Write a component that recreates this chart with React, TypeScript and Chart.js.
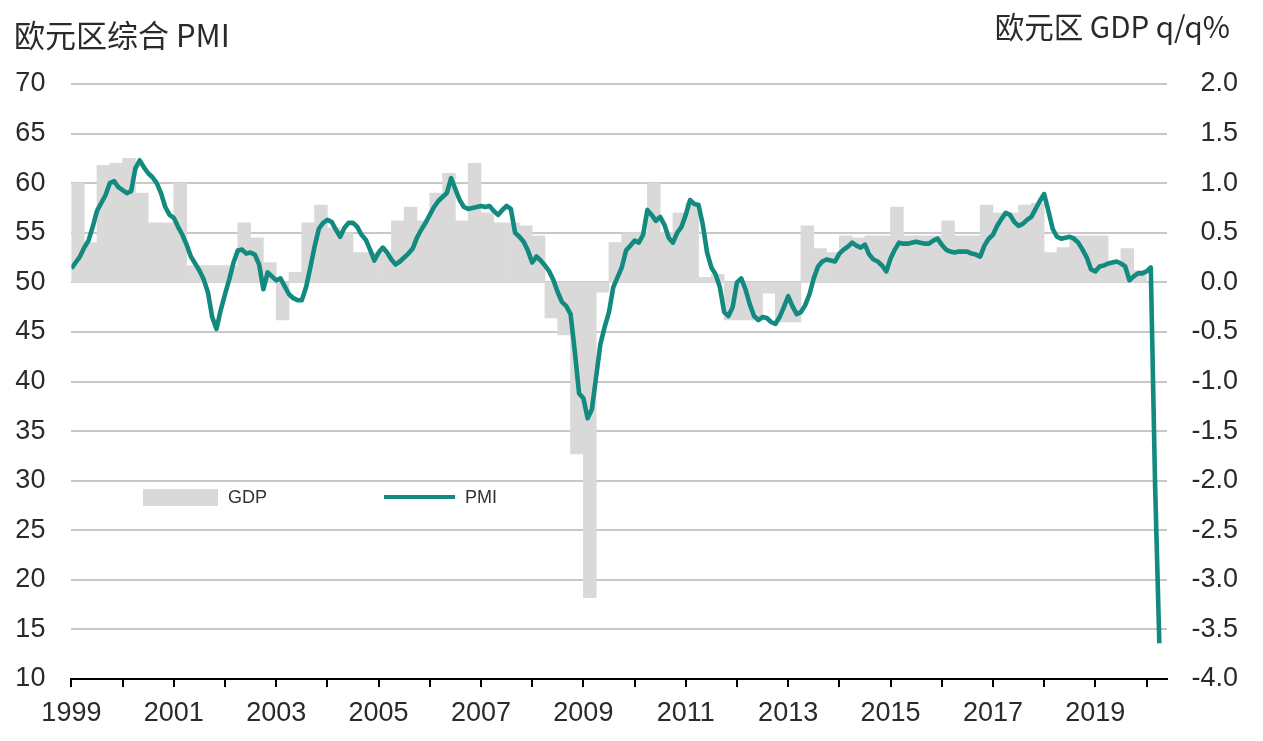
import React, { useEffect, useRef } from "react";
import { Chart, registerables } from "chart.js";

Chart.register(...registerables);

// ---------- data ----------
const startYear = 1999;

// Euro area composite PMI, monthly from Jan 1999 to Apr 2020
const pmi1999 = [51.4, 52.0, 52.6, 53.5, 54.2, 55.6, 57.2, 58.0, 58.8, 60.0, 60.2, 59.6];
const pmi2000 = [59.3, 59.0, 59.2, 61.5, 62.3, 61.6, 61.0, 60.6, 60.0, 59.0, 57.6, 56.8];
const pmi2001 = [56.5, 55.6, 54.8, 53.8, 52.6, 51.9, 51.2, 50.3, 49.0, 46.5, 45.3, 47.2];
const pmi2002 = [48.8, 50.3, 52.0, 53.2, 53.3, 52.9, 53.0, 52.8, 51.8, 49.3, 51.0, 50.6];
const pmi2003 = [50.2, 50.4, 49.6, 48.8, 48.4, 48.2, 48.2, 49.5, 51.5, 53.6, 55.4, 56.0];
const pmi2004 = [56.3, 56.1, 55.3, 54.6, 55.5, 56.0, 56.0, 55.6, 54.8, 54.3, 53.3, 52.2];
const pmi2005 = [53.0, 53.5, 53.0, 52.3, 51.8, 52.1, 52.5, 52.9, 53.4, 54.5, 55.3, 56.0];
const pmi2006 = [56.8, 57.6, 58.2, 58.6, 59.0, 60.5, 59.4, 58.3, 57.6, 57.4, 57.5, 57.6];
const pmi2007 = [57.7, 57.6, 57.7, 57.2, 56.8, 57.3, 57.7, 57.4, 55.0, 54.6, 54.1, 53.2];
const pmi2008 = [52.0, 52.6, 52.2, 51.7, 51.1, 50.2, 49.0, 48.0, 47.6, 46.8, 43.0, 38.8];
const pmi2009 = [38.3, 36.3, 37.2, 40.5, 43.8, 45.5, 47.0, 49.5, 50.5, 51.5, 53.2, 53.7];
const pmi2010 = [54.2, 54.0, 54.8, 57.3, 56.8, 56.2, 56.6, 55.8, 54.5, 54.0, 55.0, 55.6];
const pmi2011 = [56.8, 58.3, 57.9, 57.8, 55.8, 53.0, 51.5, 50.8, 49.5, 47.0, 46.6, 47.5];
const pmi2012 = [50.0, 50.4, 49.3, 47.8, 46.6, 46.2, 46.5, 46.4, 46.0, 45.8, 46.5, 47.5];
const pmi2013 = [48.6, 47.6, 46.8, 47.0, 47.7, 48.8, 50.4, 51.6, 52.1, 52.3, 52.2, 52.1];
const pmi2014 = [52.9, 53.3, 53.6, 54.0, 53.7, 53.5, 53.8, 52.8, 52.3, 52.1, 51.7, 51.1];
const pmi2015 = [52.4, 53.3, 54.0, 53.9, 53.9, 54.0, 54.1, 54.0, 53.9, 53.9, 54.2, 54.4];
const pmi2016 = [53.8, 53.3, 53.1, 53.0, 53.1, 53.1, 53.1, 52.9, 52.8, 52.6, 53.7, 54.4];
const pmi2017 = [54.8, 55.7, 56.4, 57.0, 56.8, 56.1, 55.7, 55.9, 56.3, 56.6, 57.4, 58.2];
const pmi2018 = [58.9, 57.2, 55.4, 54.6, 54.4, 54.5, 54.6, 54.4, 54.0, 53.3, 52.5, 51.3];
const pmi2019 = [51.1, 51.6, 51.7, 51.9, 52.0, 52.1, 51.9, 51.6, 50.2, 50.6, 50.9, 50.9];
const pmi2020 = [51.1, 51.5, 29.7, 13.6];

const pmiValues = [
  ...pmi1999, ...pmi2000, ...pmi2001, ...pmi2002, ...pmi2003, ...pmi2004,
  ...pmi2005, ...pmi2006, ...pmi2007, ...pmi2008, ...pmi2009, ...pmi2010,
  ...pmi2011, ...pmi2012, ...pmi2013, ...pmi2014, ...pmi2015, ...pmi2016,
  ...pmi2017, ...pmi2018, ...pmi2019, ...pmi2020,
];

// Euro area GDP q/q %, quarterly 1999Q1 .. 2019Q4
const gdpValues = [
  1.0, 0.4, 1.18, 1.2, // 1999
  1.25, 0.9, 0.6, 0.6, // 2000
  1.0, 0.17, 0.17, 0.17, // 2001
  0.17, 0.6, 0.45, 0.2, // 2002
  -0.38, 0.1, 0.6, 0.78, // 2003
  0.55, 0.5, 0.3, 0.3, // 2004
  0.3, 0.62, 0.76, 0.62, // 2005
  0.9, 1.1, 0.62, 1.2, // 2006
  0.7, 0.6, 0.6, 0.57, // 2007
  0.47, -0.36, -0.53, -1.73, // 2008
  -3.18, -0.1, 0.4, 0.5, // 2009
  0.5, 1.0, 0.5, 0.7, // 2010
  0.8, 0.05, 0.08, -0.38, // 2011
  -0.38, -0.38, -0.11, -0.4, // 2012
  -0.4, 0.57, 0.34, 0.3, // 2013
  0.47, 0.45, 0.47, 0.47, // 2014
  0.76, 0.47, 0.47, 0.47, // 2015
  0.62, 0.47, 0.47, 0.78, // 2016
  0.7, 0.7, 0.78, 0.8, // 2017
  0.3, 0.35, 0.47, 0.47, // 2018
  0.47, 0.19, 0.34, 0.12, // 2019
];

const yearTicks = [
  1999, 2000, 2001, 2002, 2003, 2004, 2005, 2006, 2007, 2008, 2009,
  2010, 2011, 2012, 2013, 2014, 2015, 2016, 2017, 2018, 2019, 2020,
];
const yearLabels = ["1999", "2001", "2003", "2005", "2007", "2009", "2011", "2013", "2015", "2017", "2019"];

const leftTitle = "欧元区综合 PMI";
const rightTitle = "欧元区 GDP q/q%";
const legendGdp = "GDP";
const legendPmi = "PMI";

// ---------- styles ----------
const TEAL = "#138a7f";
const BAR_GRAY = "#d9d9d9";
const GRID = "#c8c8c8";
const TEXT = "#2a2a2a";
const TICK_FONT = "'Liberation Sans Narrow', 'Arial Narrow', 'Liberation Sans', Arial, sans-serif";

export default function App() {
  const canvasRef = useRef<HTMLCanvasElement | null>(null);

  useEffect(() => {
    const canvas = canvasRef.current;
    if (!canvas) return;

    const pmiPoints = pmiValues.map((v, i) => ({ x: startYear + i / 12, y: v }));
    const gdpPoints = gdpValues.map((v, i) => ({ x: startYear + i / 4 + 0.125, y: v }));

    const chart = new Chart(canvas, {
      type: "bar",
      data: {
        datasets: [
          {
            type: "line",
            label: legendPmi,
            data: pmiPoints,
            xAxisID: "x",
            yAxisID: "y",
            borderColor: TEAL,
            borderWidth: 4.6,
            pointRadius: 0,
            tension: 0,
            fill: false,
            order: 0,
            borderJoinStyle: "round",
          } as any,
          {
            type: "bar",
            label: legendGdp,
            data: gdpPoints,
            xAxisID: "x",
            yAxisID: "yR",
            backgroundColor: BAR_GRAY,
            borderWidth: 0,
            barPercentage: 1.0,
            categoryPercentage: 1.0,
            order: 1,
          } as any,
        ],
      },
      options: {
        animation: false,
        responsive: false,
        maintainAspectRatio: false,
        layout: { padding: { top: 84, right: 25, bottom: 0, left: 0 } },
        plugins: {
          legend: { display: false },
          tooltip: { enabled: false },
          title: { display: false },
        },
        scales: {
          x: {
            type: "linear",
            position: "bottom",
            offset: false,
            min: 1999,
            max: 2020.4,
            afterBuildTicks: (s: any) => {
              s.ticks = yearTicks.map((v) => ({ value: v }));
            },
            afterFit: (s: any) => {
              s.height = 62;
            },
            ticks: {
              autoSkip: false,
              maxRotation: 0,
              minRotation: 0,
              padding: 10,
              color: TEXT,
              font: { family: TICK_FONT, size: 27 },
              callback: (v: any) => {
                const s = String(v);
                return yearLabels.includes(s) ? s : "";
              },
            },
            grid: {
              offset: false,
              drawOnChartArea: false,
              drawTicks: true,
              tickLength: 8,
              color: "#000",
              lineWidth: 2,
            },
            border: { display: true, color: "#000", width: 2, z: 1 },
          },
          y: {
            type: "linear",
            position: "left",
            min: 10,
            max: 70,
            afterFit: (s: any) => {
              s.width = 71.4;
            },
            ticks: {
              stepSize: 5,
              padding: 26,
              color: TEXT,
              font: { family: TICK_FONT, size: 27 },
            },
            grid: { color: GRID, lineWidth: 2, drawTicks: false },
            border: { display: false },
          },
          yR: {
            type: "linear",
            position: "right",
            min: -4,
            max: 2,
            afterFit: (s: any) => {
              s.width = 71;
            },
            ticks: {
              stepSize: 0.5,
              crossAlign: "far",
              color: TEXT,
              font: { family: TICK_FONT, size: 27 },
              callback: (v: any) => Number(v).toFixed(1),
            },
            grid: { display: false, drawTicks: false },
            border: { display: false },
          },
        },
      } as any,
    });

    return () => chart.destroy();
  }, []);

  const titleFont = "'Noto Sans CJK SC', 'Noto Sans', sans-serif";
  const legendFont = "'Liberation Sans', Arial, sans-serif";

  return (
    <div
      style={{
        position: "fixed",
        left: 0,
        top: 0,
        width: 1263,
        height: 741,
        background: "#fff",
        overflow: "hidden",
      }}
    >
      <canvas ref={canvasRef} width={1263} height={741} style={{ display: "block" }} />
      <div
        style={{
          position: "absolute",
          left: 14,
          top: 16,
          fontFamily: titleFont,
          fontSize: 31,
          lineHeight: "36px",
          color: TEXT,
          whiteSpace: "nowrap",
        }}
      >
        {leftTitle}
      </div>
      <div
        style={{
          position: "absolute",
          right: 33,
          top: 7,
          fontFamily: titleFont,
          fontSize: 29.5,
          lineHeight: "36px",
          color: TEXT,
          whiteSpace: "nowrap",
        }}
      >
        {rightTitle}
      </div>
      <div style={{ position: "absolute", left: 143, top: 489, width: 75, height: 17, background: BAR_GRAY }} />
      <div
        style={{
          position: "absolute",
          left: 228,
          top: 486,
          fontFamily: legendFont,
          fontSize: 18,
          lineHeight: "22px",
          color: "#333",
        }}
      >
        {legendGdp}
      </div>
      <div style={{ position: "absolute", left: 384, top: 495, width: 71, height: 4, background: TEAL }} />
      <div
        style={{
          position: "absolute",
          left: 465,
          top: 486,
          fontFamily: legendFont,
          fontSize: 18,
          lineHeight: "22px",
          color: "#333",
        }}
      >
        {legendPmi}
      </div>
    </div>
  );
}
